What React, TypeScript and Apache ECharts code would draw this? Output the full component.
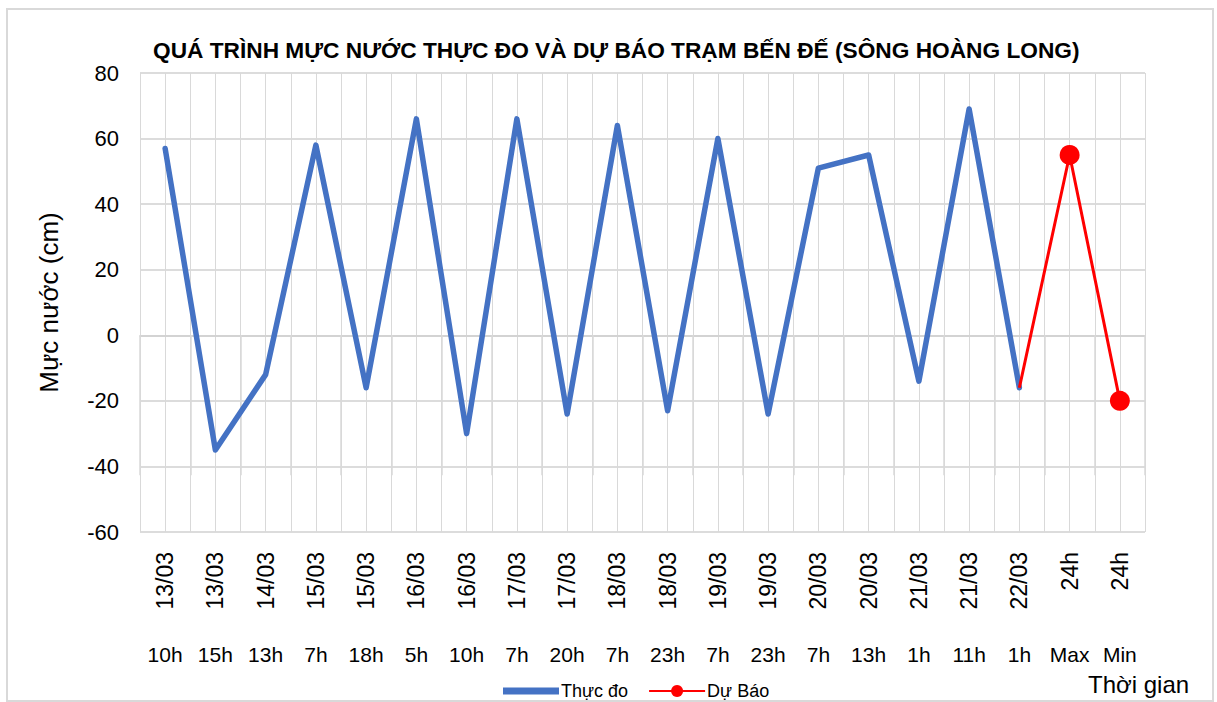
import React, { useEffect, useRef } from "react";
import * as echarts from "echarts";

const dateLabels = ["13/03","13/03","14/03","15/03","15/03","16/03","16/03","17/03","17/03","18/03","18/03","19/03","19/03","20/03","20/03","21/03","21/03","22/03","24h","24h"];
const hourLabels = ["10h","15h","13h","7h","18h","5h","10h","7h","20h","7h","23h","7h","23h","7h","13h","1h","11h","1h","Max","Min"];
const thucDo = [57,-35,-12,58,-16,66,-30,66,-24,64,-23,60,-24,51,55,-14,69,-16,null,null];
const duBao = [null,null,null,null,null,null,null,null,null,null,null,null,null,null,null,null,null,-16,55,-20];
const yTicks = { min: -60, max: 80, interval: 20 };

const FONT2 = "'Liberation Sans', Arial, sans-serif";

export default function App() {
  const ref = useRef<HTMLDivElement>(null);
  useEffect(() => {
    if (!ref.current) return;
    const chart = echarts.init(ref.current, null, { renderer: "svg" });
    const halfCats = Array.from({ length: dateLabels.length * 2 }, (_, i) => String(i));
    chart.setOption({
      animation: false,
      textStyle: { fontFamily: FONT2 },
      title: {
        text: "QUÁ TRÌNH MỰC NƯỚC THỰC ĐO VÀ DỰ BÁO TRẠM BẾN ĐẾ (SÔNG HOÀNG LONG)",
        left: 148,
        top: 33,
        textStyle: { fontFamily: FONT2, fontSize: 22.7, fontWeight: "bold", color: "#000" },
      },
      grid: { left: 140, right: 72, top: 73, bottom: 170, containLabel: false },
      legend: {
        left: 498,
        top: 677,
        itemWidth: 56,
        itemHeight: 15,
        itemGap: 20,
        textStyle: { fontFamily: FONT2, fontSize: 18, color: "#000", padding: [0, 0, 0, -3] },
        data: [
          { name: "Thực đo", icon: "path://M0,0H56V7H0Z" },
          { name: "Dự Báo" },
        ],
      },
      xAxis: [
        {
          type: "category",
          data: dateLabels,
          boundaryGap: true,
          axisLine: { show: true, lineStyle: { color: "#d0d0d0", width: 1.5 } },
          axisTick: { show: true, length: 140, lineStyle: { color: "#d9d9d9", width: 1.5 } },
          axisLabel: { rotate: 90, margin: 20, fontSize: 23, color: "#000", fontFamily: FONT2, interval: 0 },
          splitLine: { show: false },
        },
        {
          type: "category",
          data: hourLabels,
          position: "bottom",
          offset: 112,
          boundaryGap: true,
          axisLine: { show: false },
          axisTick: { show: false },
          axisLabel: { fontSize: 21, color: "#000", fontFamily: FONT2, interval: 0, margin: 0 },
        },
        {
          type: "category",
          data: halfCats,
          position: "top",
          boundaryGap: true,
          axisLine: { show: false },
          axisTick: { show: false },
          axisLabel: { show: false },
          splitLine: { show: true, interval: 0, lineStyle: { color: "#d9d9d9", width: 1 } },
        },
      ],
      yAxis: {
        type: "value",
        min: yTicks.min,
        max: yTicks.max,
        interval: yTicks.interval,
        name: "Mực nước (cm)",
        nameLocation: "middle",
        nameGap: 78,
        nameTextStyle: { fontFamily: FONT2, fontSize: 26, color: "#000" },
        axisLine: { show: false },
        axisTick: { show: false },
        axisLabel: { fontSize: 22, color: "#000", fontFamily: FONT2, margin: 21 },
        splitLine: { show: true, lineStyle: { color: "#d0d0d0", width: 1.5 } },
      },
      series: [
        {
          name: "Thực đo",
          type: "line",
          data: thucDo,
          symbol: "none",
          itemStyle: { color: "#4472C4" },
          lineStyle: { color: "#4472C4", width: 5.5, cap: "round", join: "round" },
          connectNulls: false,
        },
        {
          name: "Dự Báo",
          type: "line",
          data: duBao.map((v, i) => (i === 17 ? { value: v, symbol: "none" } : v)),
          symbol: "circle",
          symbolSize: 20,
          itemStyle: { color: "#FF0000" },
          lineStyle: { color: "#FF0000", width: 3 },
          z: 3,
        },
      ],
      graphic: [
        {
          type: "rect",
          shape: { x: 7, y: 9, width: 1206, height: 692 },
          style: { fill: "none", stroke: "#d9d9d9", lineWidth: 2 },
          silent: true,
        },
        {
          type: "text",
          left: 1088,
          top: 672,
          style: { text: "Thời gian", fontFamily: FONT2, fontSize: 24, fill: "#000" },
        },
      ],
    });
    return () => chart.dispose();
  }, []);
  return <div ref={ref} style={{ position: "absolute", left: 0, top: 0, width: 1217, height: 702 }} />;
}
